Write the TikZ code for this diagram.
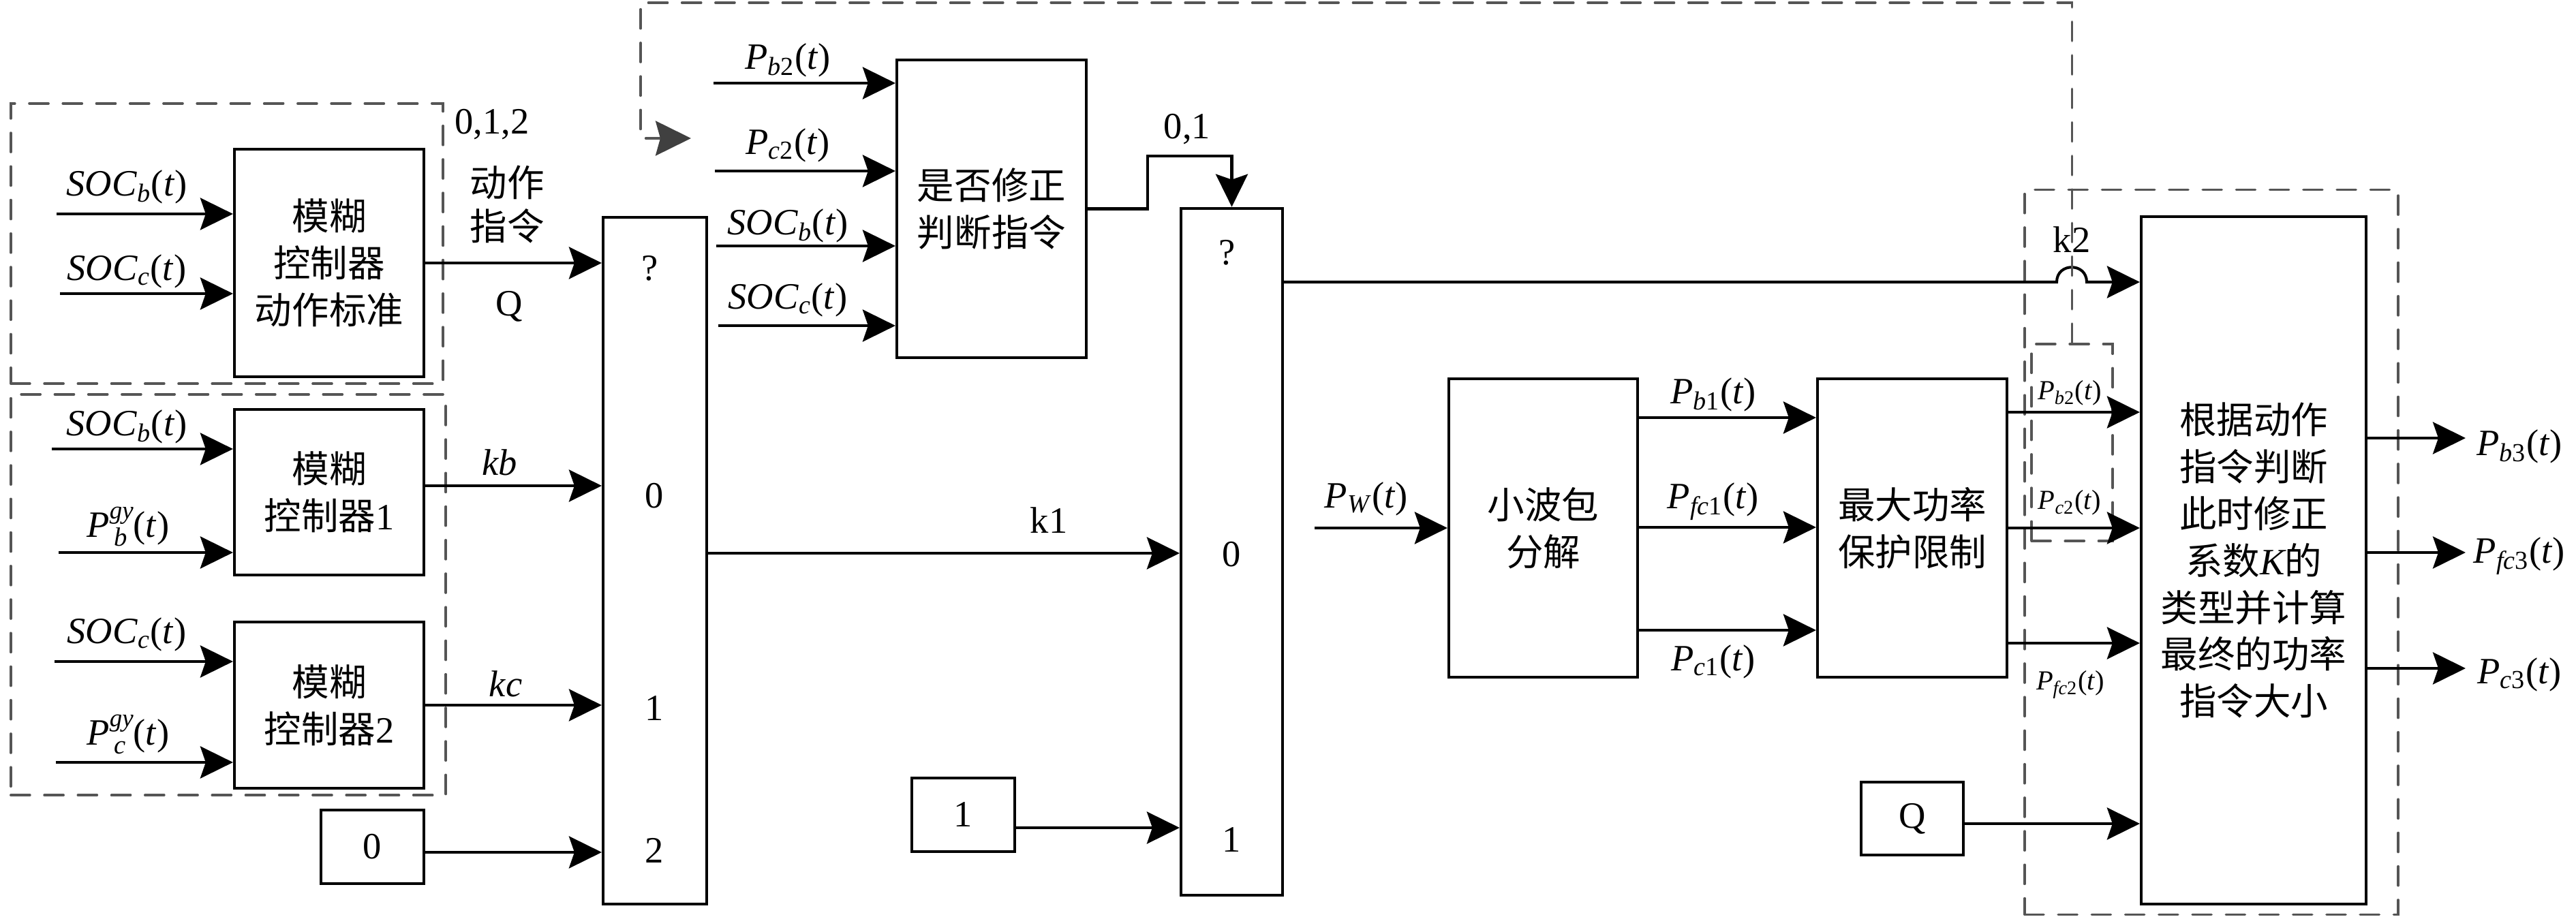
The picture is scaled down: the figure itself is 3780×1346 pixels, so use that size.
\documentclass[tikz,border=0pt]{standalone}
\usepackage{fontspec}
\setmainfont{Liberation Serif}
\newfontfamily\cjk{Noto Sans CJK SC}
\usetikzlibrary{arrows.meta}
\definecolor{dashgray}{RGB}{85,85,85}
\definecolor{tipgray}{RGB}{64,64,64}
\newcommand\msz{\fontsize{15.5}{19.6}\selectfont}
\newcommand\ssz{\fontsize{11.5}{14}\selectfont}
\newcommand\SOC[1]{\textit{SOC}\textsubscript{\textit{#1}}(\textit{t})}
\newcommand\Pt[1]{\textit{P}\textsubscript{#1}(\textit{t})}
\newcommand\Pgy[1]{\textit{P}\rlap{\hspace{0.12em}\raisebox{-0.23em}{\fontsize{11}{11}\selectfont\textit{#1}}}\raisebox{0.5em}{\fontsize{10.5}{10.5}\selectfont\textit{gy}}(\textit{t})}
\newcommand\rmn[1]{{\rmfamily #1}}
\begin{document}
\begin{tikzpicture}[x=0.01cm,y=-0.01cm,
 box/.style={draw,line width=1.15pt,inner sep=0pt,align=center,font=\cjk\msz},
 numbox/.style={draw,line width=1.15pt,inner sep=0pt,font=\msz},
 dbox/.style={draw=dashgray,line width=1pt,line cap=round,dash pattern=on 8pt off 6pt,inner sep=0pt},
 arr/.style={line width=1.15pt,-{Stealth[length=4.8mm,width=4.7mm,inset=0.8mm]}},
 fbline/.style={draw=dashgray,line width=1pt,line cap=round,dash pattern=on 8pt off 6pt,-{Stealth[length=5.2mm,width=5.1mm,inset=0.7mm,color=tipgray,fill=tipgray]}},
 lab/.style={inner sep=0pt,font=\msz},
 slab/.style={inner sep=0pt,font=\ssz},
 clab/.style={inner sep=0pt,align=center,font=\cjk\fontsize{15.5}{18.4}\selectfont},
]
\useasboundingbox (0,0) rectangle (3780,1346);

% dashed groups
\node[dbox,minimum width=6.34cm,minimum height=4.11cm] (DB1) at (333,357.5) {};
\node[dbox,minimum width=6.38cm,minimum height=5.88cm] (DB2) at (335,873) {};
\node[dbox,minimum width=5.48cm,minimum height=10.63cm] (DB3) at (3245,810.5) {};
\node[dbox,minimum width=1.19cm,minimum height=2.89cm] (DB4) at (3040.5,649.5) {};

% blocks
\node[box,minimum width=2.78cm,minimum height=3.34cm] (A) at (483,386) {模糊\\控制器\\动作标准};
\node[box,minimum width=2.78cm,minimum height=2.43cm] (B1) at (483,722.5) {模糊\\控制器\rmn{1}};
\node[box,minimum width=2.78cm,minimum height=2.44cm] (B2) at (483,1035) {模糊\\控制器\rmn{2}};
\node[numbox,minimum width=1.51cm,minimum height=1.08cm] (Z0) at (546.5,1243) {0};
\node[numbox,minimum width=1.52cm,minimum height=10.08cm] (M1) at (961,823) {};
\node[box,minimum width=2.78cm,minimum height=4.37cm] (C) at (1455,306.5) {是否修正\\判断指令};
\node[numbox,minimum width=1.49cm,minimum height=10.08cm] (M2) at (1807.5,810) {};
\node[numbox,minimum width=1.51cm,minimum height=1.08cm] (One) at (1413.5,1196) {1};
\node[box,minimum width=2.77cm,minimum height=4.38cm] (D) at (2264.5,775) {小波包\\分解};
\node[box,minimum width=2.78cm,minimum height=4.38cm] (E) at (2806,775) {最大功率\\保护限制};
\node[box,minimum width=3.30cm,minimum height=10.09cm] (F) at (3307,822.5) {根据动作\\指令判断\\此时修正\\系数{\rmfamily\itshape K}的\\类型并计算\\最终的功率\\指令大小};
\node[numbox,minimum width=1.50cm,minimum height=1.07cm] (QB) at (2806,1201.5) {Q};

% rails and free ends
\coordinate (iA1) at (83,314);
\coordinate (iA2) at (88,431);
\coordinate (iB1a) at (76,659);
\coordinate (iB1b) at (86,811);
\coordinate (iB2a) at (80,971);
\coordinate (iB2b) at (82,1119);
\coordinate (yKb) at (0,713);
\coordinate (yKc) at (0,1035);
\coordinate (yZ) at (0,1251);
\coordinate (iC1) at (1047,122);
\coordinate (iC2) at (1049,251);
\coordinate (iC3) at (1051,361);
\coordinate (iC4) at (1054,478);
\coordinate (j1) at (1684,229);
\coordinate (yK1) at (0,812);
\coordinate (yOne) at (0,1215);
\coordinate (yK2) at (0,414);
\coordinate (hopL) at (3018,414);
\coordinate (hopR) at (3062,414);
\coordinate (iPW) at (1929,775);
\coordinate (yB1) at (0,613);
\coordinate (yFC1) at (0,774);
\coordinate (yC1) at (0,925);
\coordinate (yB2) at (0,605);
\coordinate (yC2) at (0,775);
\coordinate (yFC2) at (0,944);
\coordinate (yQQ) at (0,1209);
\coordinate (yB3) at (0,643);
\coordinate (yFC3) at (0,811);
\coordinate (yC3) at (0,981);
\coordinate (xo) at (3618,0);
\coordinate (fb2) at (940,4);
\coordinate (fbt) at (1014,203);

% connectors
\draw[arr] (iA1) -- (iA1 -| A.west);
\draw[arr] (iA2) -- (iA2 -| A.west);
\draw[arr] (iB1a) -- (iB1a -| B1.west);
\draw[arr] (iB1b) -- (iB1b -| B1.west);
\draw[arr] (iB2a) -- (iB2a -| B2.west);
\draw[arr] (iB2b) -- (iB2b -| B2.west);
\draw[arr] (A.east) -- (A.east -| M1.west);
\draw[arr] (B1.east |- yKb) -- (M1.west |- yKb);
\draw[arr] (B2.east |- yKc) -- (M1.west |- yKc);
\draw[arr] (Z0.east |- yZ) -- (M1.west |- yZ);
\draw[arr] (iC1) -- (iC1 -| C.west);
\draw[arr] (iC2) -- (iC2 -| C.west);
\draw[arr] (iC3) -- (iC3 -| C.west);
\draw[arr] (iC4) -- (iC4 -| C.west);
\draw[arr] (C.east) -| (j1) -| (M2.north);
\draw[arr] (M1.east |- yK1) -- (M2.west |- yK1);
\draw[arr] (One.east |- yOne) -- (M2.west |- yOne);
\draw[arr] (M2.east |- yK2) -- (hopL) .. controls +(0,-29) and +(0,-29) .. (hopR) -- (F.west |- yK2);
\draw[arr] (iPW) -- (iPW -| D.west);
\draw[arr] (D.east |- yB1) -- (E.west |- yB1);
\draw[arr] (D.east |- yFC1) -- (E.west |- yFC1);
\draw[arr] (D.east |- yC1) -- (E.west |- yC1);
\draw[arr] (E.east |- yB2) -- (F.west |- yB2);
\draw[arr] (E.east |- yC2) -- (F.west |- yC2);
\draw[arr] (E.east |- yFC2) -- (F.west |- yFC2);
\draw[arr] (QB.east |- yQQ) -- (F.west |- yQQ);
\draw[arr] (F.east |- yB3) -- (xo |- yB3);
\draw[arr] (F.east |- yFC3) -- (xo |- yFC3);
\draw[arr] (F.east |- yC3) -- (xo |- yC3);
\draw[fbline] (DB4.north) |- (fb2) |- (fbt);

% labels
\node[lab] (lA1) at (186,274) {\SOC{b}};
\node[lab] (lA2) at (186,398) {\SOC{c}};
\node[lab] (lB1a) at (186,626) {\SOC{b}};
\node[lab] (lB1b) at (188,773) {\Pgy{b}};
\node[lab] (lB2a) at (186,931) {\SOC{c}};
\node[lab] (lB2b) at (188,1078) {\Pgy{c}};
\node[lab] (l012) at (722,183) {0,1,2};
\node[clab] (ldz) at (744,300) {动作\\指令};
\node[lab] (lQ) at (747,450) {Q};
\node[lab] (lkb) at (733,679) {\textit{kb}};
\node[lab] (lkc) at (742,1004) {\textit{kc}};
\node[lab] (m1q) at (954,394) {?};
\node[lab] (m10) at (960,728) {0};
\node[lab] (m11) at (960,1040) {1};
\node[lab] (m12) at (960,1248) {2};
\node[lab] (lC1) at (1156,88) {\Pt{\textit{b}2}};
\node[lab] (lC2) at (1156,213) {\Pt{\textit{c}2}};
\node[lab] (lC3) at (1156,331) {\SOC{b}};
\node[lab] (lC4) at (1156,440) {\SOC{c}};
\node[lab] (l01) at (1742,190) {0,1};
\node[lab] (lk1) at (1539,764) {k1};
\node[lab] (m2q) at (1801,371) {?};
\node[lab] (m20) at (1807,814) {0};
\node[lab] (m21) at (1807,1233) {1};
\node[lab] (lPW) at (2005,732) {\Pt{\textit{W}}};
\node[lab] (lB1) at (2514,579) {\Pt{\textit{b}1}};
\node[lab] (lFC1) at (2514,736) {\Pt{\textit{fc}1}};
\node[lab] (lC1b) at (2514,971) {\Pt{\textit{c}1}};
\node[lab] (lk2) at (3040,352) {k2};
\node[slab] (lB2) at (3037,577) {\Pt{\textit{b}2}};
\node[slab] (lC2b) at (3037,738) {\Pt{\textit{c}2}};
\node[slab] (lFC2) at (3038,1005) {\Pt{\textit{fc}2}};
\node[lab] (lB3) at (3697,655) {\Pt{\textit{b}3}};
\node[lab] (lFC3) at (3697,816) {\Pt{\textit{fc}3}};
\node[lab] (lC3b) at (3697,990) {\Pt{\textit{c}3}};
\end{tikzpicture}
\end{document}
